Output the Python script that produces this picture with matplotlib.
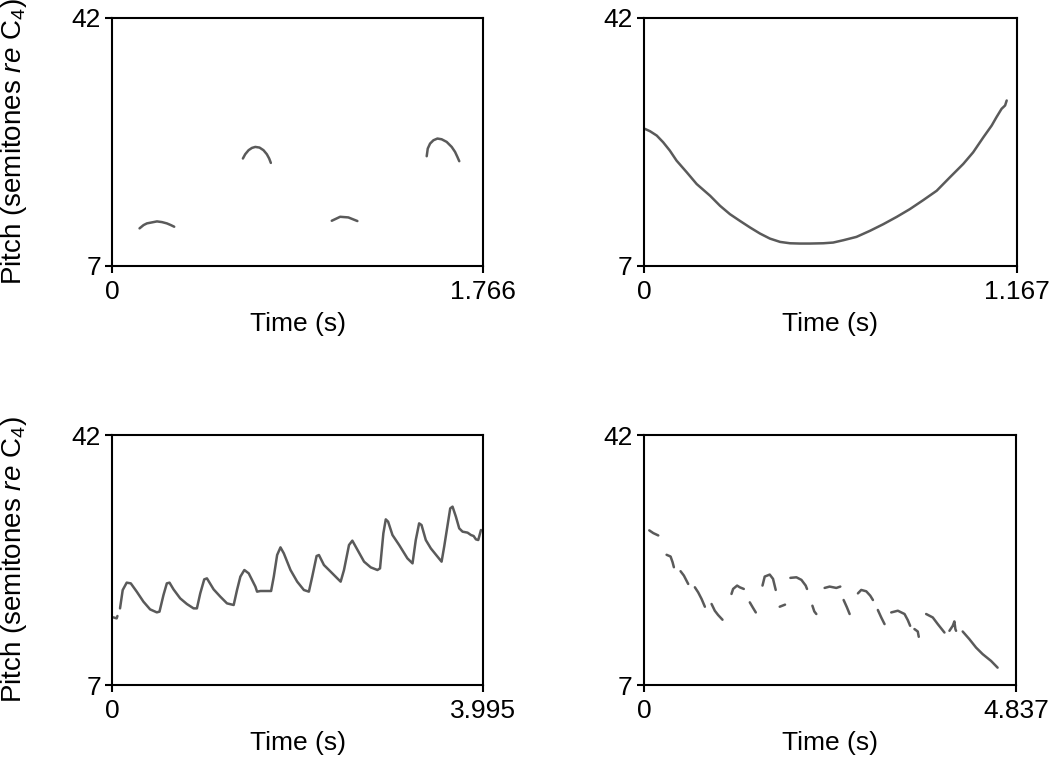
import matplotlib
matplotlib.use("Agg")
import matplotlib.pyplot as plt

plt.rcParams['font.family'] = ['Liberation Sans', 'DejaVu Sans']
plt.rcParams['mathtext.fontset'] = 'custom'
plt.rcParams['mathtext.rm'] = 'Liberation Sans'
plt.rcParams['mathtext.it'] = 'Liberation Sans:italic'

# ---- data (time in s, pitch in semitones re C4) ----
y_min, y_max = 7, 42
durations = [1.766, 1.167, 3.995, 4.837]
x_label = "Time (s)"
y_label = "Pitch (semitones $\\it{re}$ C$_4$)"

# panel A: four separate notes
a_t = [
    [0.131, 0.150, 0.166, 0.214, 0.238, 0.261, 0.280, 0.296],
    [0.623, 0.634, 0.650, 0.666, 0.682, 0.702, 0.721, 0.737, 0.748, 0.756],
    [1.046, 1.086, 1.125, 1.168],
    [1.498, 1.503, 1.514, 1.530, 1.549, 1.569, 1.593, 1.617, 1.633, 1.644, 1.653],
]
a_p = [
    [12.30, 12.76, 13.00, 13.28, 13.18, 13.00, 12.76, 12.53],
    [22.14, 22.74, 23.31, 23.63, 23.77, 23.68, 23.31, 22.74, 22.14, 21.52],
    [13.37, 13.93, 13.84, 13.33],
    [22.46, 23.54, 24.24, 24.71, 24.95, 24.85, 24.48, 23.77, 23.07, 22.37, 21.76],
]

# panel B: one continuous glide
b_t = [[0.003, 0.019, 0.040, 0.060, 0.081, 0.102, 0.134, 0.165, 0.207, 0.238,
        0.269, 0.300, 0.332, 0.363, 0.394, 0.426, 0.457, 0.488, 0.519, 0.561,
        0.592, 0.624, 0.665, 0.707, 0.749, 0.791, 0.832, 0.874, 0.916, 0.957,
        0.999, 1.030, 1.062, 1.088, 1.103, 1.119, 1.130, 1.135]]
b_p = [[26.31, 25.98, 25.37, 24.43, 23.25, 21.84, 20.19, 18.54, 16.89, 15.48,
        14.30, 13.36, 12.42, 11.57, 10.86, 10.39, 10.20, 10.16, 10.16, 10.20,
        10.30, 10.63, 11.10, 11.95, 12.89, 13.92, 15.01, 16.28, 17.60, 19.48,
        21.37, 23.01, 25.13, 26.78, 27.96, 29.14, 29.61, 30.31]]

# panel C: rising sawtooth contour
c_t = [
    [0.014, 0.050, 0.058],
    [0.086, 0.115, 0.158, 0.202, 0.266, 0.338, 0.410, 0.482, 0.511, 0.554,
     0.590, 0.619, 0.662, 0.734, 0.806, 0.878, 0.914, 0.950, 0.993, 1.022,
     1.094, 1.166, 1.238, 1.310, 1.346, 1.382, 1.425, 1.472, 1.544, 1.562,
     1.598, 1.713, 1.742, 1.778, 1.814, 1.850, 1.922, 1.994, 2.066, 2.120,
     2.156, 2.203, 2.228, 2.282, 2.354, 2.426, 2.462, 2.498, 2.552, 2.588,
     2.624, 2.714, 2.786, 2.858, 2.886, 2.922, 2.948, 2.973, 3.020, 3.092,
     3.181, 3.236, 3.271, 3.307, 3.333, 3.379, 3.433, 3.505, 3.549, 3.577,
     3.642, 3.667, 3.703, 3.739, 3.775, 3.829, 3.865, 3.894, 3.919, 3.944,
     3.973],
]
c_p = [
    [16.47, 16.33, 16.66],
    [17.73, 20.30, 21.33, 21.23, 20.07, 18.67, 17.59, 17.17, 17.27, 19.60,
     21.23, 21.33, 20.39, 19.13, 18.34, 17.73, 17.73, 19.83, 21.79, 21.93,
     20.39, 19.37, 18.43, 18.20, 20.30, 22.17, 23.10, 22.63, 20.77, 20.07,
     20.16, 20.16, 22.17, 25.20, 26.27, 25.43, 23.10, 21.47, 20.30, 20.07,
     22.17, 25.06, 25.20, 23.80, 22.87, 21.93, 21.47, 23.10, 26.60, 27.21,
     26.37, 24.27, 23.47, 23.10, 23.33, 28.23, 30.19, 29.87, 28.00, 26.60,
     24.73, 24.03, 27.30, 29.63, 29.40, 27.30, 26.13, 24.97, 24.27, 26.37,
     31.73, 31.97, 30.57, 28.93, 28.47, 28.33, 28.00, 27.86, 27.39, 27.30,
     28.70],
]

# panel D: many short falling fragments
d_t = [
    [0.069, 0.121, 0.186],
    [0.294, 0.346, 0.372, 0.389],
    [0.476, 0.519, 0.575],
    [0.662, 0.705, 0.749, 0.792],
    [0.879, 0.921, 0.964, 1.021],
    [1.138, 1.159, 1.211, 1.246, 1.298],
    [1.376, 1.419, 1.454],
    [1.541, 1.570, 1.635, 1.678, 1.713],
    [1.765, 1.834],
    [1.904, 1.982, 2.047, 2.103, 2.120],
    [2.190, 2.215, 2.241],
    [2.349, 2.414, 2.501, 2.553],
    [2.596, 2.639, 2.674],
    [2.782, 2.825, 2.890, 2.942, 2.977],
    [3.041, 3.085, 3.128],
    [3.215, 3.301, 3.388, 3.430, 3.461],
    [3.517, 3.560, 3.573],
    [3.669, 3.755, 3.820, 3.907],
    [3.972, 4.015, 4.036, 4.049, 4.058],
    [4.144, 4.231, 4.318, 4.404, 4.513, 4.598],
]
d_p = [
    [28.65, 28.27, 27.94],
    [25.23, 24.99, 24.19, 23.49],
    [22.93, 22.32, 21.15],
    [20.68, 19.97, 19.05, 17.96],
    [18.34, 17.40, 16.80, 16.14],
    [19.75, 20.45, 20.92, 20.68, 20.45],
    [18.57, 17.78, 17.16],
    [20.92, 22.18, 22.46, 21.86, 20.31],
    [17.96, 18.25],
    [22.00, 22.08, 21.72, 20.92, 20.45],
    [18.10, 17.30, 16.94],
    [20.59, 20.78, 20.59, 20.78],
    [18.90, 17.87, 16.94],
    [19.83, 20.31, 20.12, 19.51, 18.90],
    [17.50, 16.46, 15.53],
    [17.16, 17.40, 16.94, 16.09, 15.29],
    [14.83, 14.49, 13.75],
    [16.94, 16.46, 15.53, 14.35],
    [14.59, 15.29, 15.90, 14.83, 14.59],
    [14.49, 13.42, 12.24, 11.32, 10.37, 9.43],
]

panels_t = [a_t, b_t, c_t, d_t]
panels_p = [a_p, b_p, c_p, d_p]

# ---- layout ----
fig = plt.figure(figsize=(10.5, 7.58), dpi=100)
rects = [
    [0.1067, 0.6491, 0.3533, 0.3278],
    [0.6133, 0.6491, 0.3552, 0.3278],
    [0.1067, 0.0963, 0.3533, 0.3298],
    [0.6133, 0.0963, 0.3543, 0.3298],
]
line_color = '#5a5a5a'
fs = 19

for i, rect in enumerate(rects):
    ax = fig.add_axes(rect)
    for tt, pp in zip(panels_t[i], panels_p[i]):
        ax.plot(tt, pp, color=line_color, lw=1.8, solid_capstyle='round',
                solid_joinstyle='round')
    ax.set_xlim(0, durations[i])
    ax.set_ylim(y_min, y_max)
    ax.set_xticks([0, durations[i]])
    ax.set_xticklabels(['0', f'{durations[i]:.3f}'])
    ax.set_yticks([y_min, y_max])
    ax.set_yticklabels([str(y_min), str(y_max)])
    for sp in ax.spines.values():
        sp.set_linewidth(1.5)
        sp.set_color('black')
    ax.tick_params(direction='out', length=5, width=1.5, labelsize=fs, pad=3,
                   colors='black')
    ax.tick_params(axis='x', pad=5)
    ax.set_xlabel(x_label, fontsize=fs, labelpad=5.5)
    if i in (0, 2):
        ax.set_ylabel(y_label, fontsize=20)
        ax.yaxis.set_label_coords(-0.225, 0.5)

fig.savefig('out.png', dpi=100)
